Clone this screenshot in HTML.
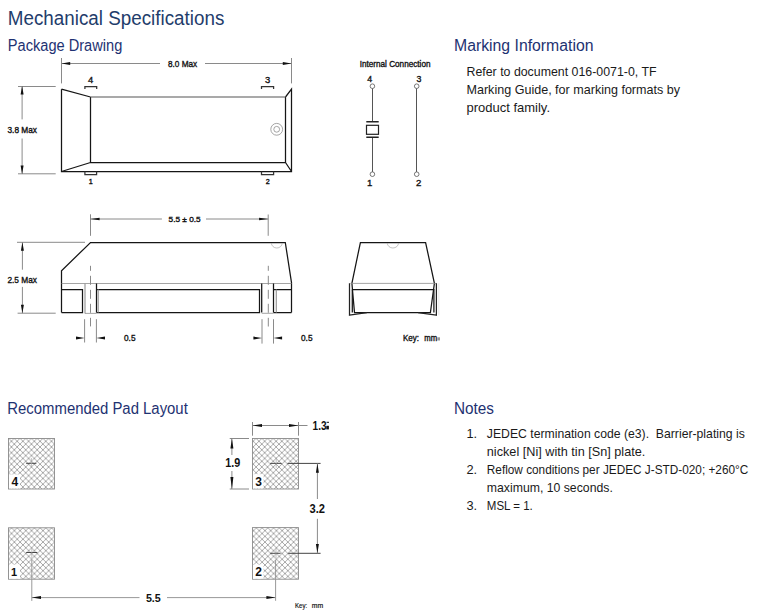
<!DOCTYPE html>
<html><head><meta charset="utf-8">
<style>
html,body{margin:0;padding:0;background:#fff;width:760px;height:616px;overflow:hidden}
svg{position:absolute;left:0;top:0;display:block}
text{font-family:"Liberation Sans",sans-serif}
.h1{fill:#1f3d6b;font-size:19.6px}
.h2{fill:#1e3272;font-size:16px}
.bd{fill:#1a1a1a;font-size:12.8px}
.lb{fill:#111;stroke:#111;stroke-width:0.35}
.lbb{fill:#111;font-weight:bold}
.dim{stroke:#8a8a8a;stroke-width:1;fill:none}
.bod{stroke:#151515;stroke-width:1.25;fill:none}
.thin{stroke:#8e8e8e;stroke-width:0.8;fill:none}
.gb{stroke:#9a9a9a;stroke-width:1.2;fill:none}
.ar{fill:#111;stroke:none}
</style></head><body>
<svg width="760" height="616" viewBox="0 0 760 616">
<defs>
<pattern id="h4" patternUnits="userSpaceOnUse" x="11.44" y="435.54" width="5.72" height="5.72"><path d="M-1 -1L6.72 6.72M6.72 -1L-1 6.72" stroke="#7a7a7a" stroke-width="0.65"/></pattern>
<pattern id="h3" patternUnits="userSpaceOnUse" x="253.24" y="435.54" width="5.72" height="5.72"><path d="M-1 -1L6.72 6.72M6.72 -1L-1 6.72" stroke="#7a7a7a" stroke-width="0.65"/></pattern>
<pattern id="h1" patternUnits="userSpaceOnUse" x="14.39" y="530.64" width="5.72" height="5.72"><path d="M-1 -1L6.72 6.72M6.72 -1L-1 6.72" stroke="#7a7a7a" stroke-width="0.65"/></pattern>
<pattern id="h2" patternUnits="userSpaceOnUse" x="253.54" y="530.64" width="5.72" height="5.72"><path d="M-1 -1L6.72 6.72M6.72 -1L-1 6.72" stroke="#7a7a7a" stroke-width="0.65"/></pattern>

</defs>

<!-- headings -->
<text class="h1" x="7.8" y="25" textLength="216.5" lengthAdjust="spacingAndGlyphs">Mechanical Specifications</text>
<text class="h2" x="7.8" y="50.7" textLength="114.5" lengthAdjust="spacingAndGlyphs">Package Drawing</text>
<text class="h2" x="454" y="51" textLength="139.5" lengthAdjust="spacingAndGlyphs">Marking Information</text>
<text class="h2" x="7.3" y="414" textLength="180.5" lengthAdjust="spacingAndGlyphs">Recommended Pad Layout</text>
<text class="h2" x="454" y="413.5" textLength="40" lengthAdjust="spacingAndGlyphs">Notes</text>

<!-- marking body -->
<text class="bd" x="466.5" y="76" textLength="190" lengthAdjust="spacingAndGlyphs">Refer to document 016-0071-0, TF</text>
<text class="bd" x="466.5" y="94" textLength="213.5" lengthAdjust="spacingAndGlyphs">Marking Guide, for marking formats by</text>
<text class="bd" x="466.5" y="112" textLength="83.5" lengthAdjust="spacingAndGlyphs">product family.</text>

<!-- notes -->
<text class="bd" x="466.5" y="438">1.</text>
<text class="bd" x="486.8" y="438" textLength="258" lengthAdjust="spacingAndGlyphs">JEDEC termination code (e3).&#160; Barrier-plating is</text>
<text class="bd" x="486.8" y="456" textLength="158.5" lengthAdjust="spacingAndGlyphs">nickel [Ni] with tin [Sn] plate.</text>
<text class="bd" x="466.5" y="474">2.</text>
<text class="bd" x="486.8" y="474" textLength="261.5" lengthAdjust="spacingAndGlyphs">Reflow conditions per JEDEC J-STD-020; +260°C</text>
<text class="bd" x="486.8" y="491.9" textLength="126" lengthAdjust="spacingAndGlyphs">maximum, 10 seconds.</text>
<text class="bd" x="466.5" y="509.8">3.</text>
<text class="bd" x="486.8" y="509.8" textLength="46" lengthAdjust="spacingAndGlyphs">MSL = 1.</text>

<!-- ===== TOP VIEW ===== -->
<g>
<path class="dim" d="M61.5 58V83.4M291.5 58V83.4M61.5 63.5H160M205 63.5H291.5"/>
<path class="ar" d="M61.5 63.5L70.2 62V65ZM291.5 63.5L282.8 62V65Z"/>
<text class="lb" x="168" y="67.3" font-size="9.4" textLength="29.2" lengthAdjust="spacingAndGlyphs">8.0 Max</text>
<text class="lb" x="90.6" y="82.7" font-size="9.4" text-anchor="middle">4</text>
<text class="lb" x="267.7" y="82.7" font-size="9.4" text-anchor="middle">3</text>
<path class="bod" style="stroke:#333" d="M84.9 89V86.5H96.7V89M261.5 89V86.5H273.6V89"/>
<path class="bod" d="M61.5 89.2V171.5H291.5V89.2L285.5 97M90.5 97V162.5H285.5V97M61.5 171.5L90.5 162.5M285.5 162.5L291.5 171.5M61.5 89.2L90.5 97"/>
<path class="bod" style="stroke:#555;stroke-width:1.1" d="M90.5 97H285.5"/>
<circle cx="276.7" cy="129.3" r="5.9" class="thin"/>
<circle cx="276.7" cy="129.3" r="2.9" class="thin"/>
<path class="bod" style="stroke:#333" d="M84.9 171.5V174.5H96.6V171.5M261.5 171.5V174.5H273.6V171.5"/>
<text class="lb" x="90.7" y="183.8" font-size="7.2" text-anchor="middle">1</text>
<text class="lb" x="267.7" y="183.8" font-size="7.2" text-anchor="middle">2</text>
<path class="dim" d="M18 86.5H55.7M18 173.8H55.7M22.1 86V119.4M22.1 138.5V174"/>
<path class="ar" d="M22.1 86L20.6 94.5H23.6ZM22.1 174L20.6 165.5H23.6Z"/>
<text class="lb" x="7.5" y="132.9" font-size="8.6" textLength="29.4" lengthAdjust="spacingAndGlyphs">3.8 Max</text>
</g>

<!-- ===== INTERNAL CONNECTION ===== -->
<g>
<text class="lb" x="359.7" y="66.8" font-size="8.7" textLength="70.8" lengthAdjust="spacingAndGlyphs">Internal Connection</text>
<text class="lb" x="369.7" y="81.5" font-size="8.8" text-anchor="middle">4</text>
<text class="lb" x="418.9" y="81.5" font-size="8.8" text-anchor="middle">3</text>
<text class="lb" x="369.7" y="186.4" font-size="9.6" text-anchor="middle">1</text>
<text class="lb" x="418.7" y="186.4" font-size="9.6" text-anchor="middle">2</text>
<circle cx="372.4" cy="86.2" r="2.3" class="thin" style="stroke:#555"/>
<circle cx="416.7" cy="86.2" r="2.3" class="thin" style="stroke:#555"/>
<circle cx="372.4" cy="174.2" r="2.3" class="thin" style="stroke:#555"/>
<circle cx="416.7" cy="174.2" r="2.3" class="thin" style="stroke:#555"/>
<path class="dim" style="stroke:#555" d="M372.5 88.5V121.7M372.5 137.2V171.9M416.5 88.5V171.9"/>
<path class="bod" style="stroke-width:1.4;stroke:#222" d="M366.3 121.7H378.7M366.3 137.2H378.7"/>
<rect x="366.5" y="125.3" width="12" height="9" class="bod" style="stroke:#222;stroke-width:1.2"/>
</g>

<!-- ===== SIDE VIEW ===== -->
<g>
<path class="dim" d="M90.5 214.3V235.8M268.2 214.5V235.8M90.5 219H161.9M206 219H268.2"/>
<path class="ar" d="M90.5 219L99.6 217.7V220.3ZM268.2 219L259.1 217.7V220.3Z"/>
<text class="lb" x="168.6" y="221.6" font-size="8" textLength="32" lengthAdjust="spacingAndGlyphs">5.5 ± 0.5</text>
<path class="dim" d="M17 242.3H85M17.6 313.2H55.7M22.4 242.3V269.7M22.4 286.9V313.2"/>
<path class="ar" d="M22.4 242.3L20.9 250.8H23.9ZM22.4 313.2L20.9 304.7H23.9Z"/>
<text class="lb" x="7.4" y="282.7" font-size="9" textLength="29.5" lengthAdjust="spacingAndGlyphs">2.5 Max</text>
<!-- body -->
<path class="bod" d="M61.5 312.5V270.8L90.5 242.5H285.3L291.5 282.6V312.5"/>
<path class="thin" d="M61.5 283.5H291.5"/>
<path class="bod" d="M61.5 289.5H82.5V312.5H61.5M96.5 283.5V312.5M96.5 289.5H259.5V312.5H96.5M261.7 283.5V312.5M273.5 283.5V312.5M273.5 289.5H291.5M273.5 312.5H291.5"/>
<path class="gb" d="M85 283.5V313.5M98.2 289.5V312.5M276.3 289.5V312.5"/>
<path class="thin" d="M85 313.4H96.5M261.7 313.3H273.5"/>
<path d="M271.4 243A5.4 5 0 0 0 282.2 243" class="thin" style="stroke:#aaa;stroke-width:0.7"/>
<path class="dim" stroke-dasharray="9 5" stroke-dashoffset="4" d="M90.5 265.8V326.4M268.3 265.8V326.5"/>
<path class="dim" d="M84.6 319.2V342.5M96.4 319.2V342.5M262 319.2V343.6M273.5 319.2V343.6"/>
<path class="ar" d="M84.6 338.1L76 336.6V339.6ZM96.4 338.1L105 336.6V339.6ZM262 338.1L253.4 336.6V339.6ZM273.5 338.1L282.1 336.6V339.6Z"/>
<text class="lb" x="124" y="341.3" font-size="8.6" textLength="11.5" lengthAdjust="spacingAndGlyphs">0.5</text>
<text class="lb" x="301" y="341.3" font-size="8.6" textLength="11.5" lengthAdjust="spacingAndGlyphs">0.5</text>
</g>

<!-- ===== END VIEW ===== -->
<g>
<path class="bod" d="M360.4 242.5H425.6L434.4 283.3L430.4 312.5H354.5L351.9 283.3Z"/>
<path class="thin" d="M350.5 283.4H436.4"/>
<path class="bod" d="M352.3 289.5H433.9V312.5M352.3 289.5V312.5"/>
<path class="bod" style="stroke:#222" d="M349.5 283.2V315.2Q358 314 366.9 312.6M436.4 283.2V315.2Q427 314 418.1 312.6"/>
<path d="M438.8 283.2V315.2" style="stroke:#eee;stroke-width:1.5"/>
<path d="M387.3 243A5.6 5 0 0 0 398.5 243" class="thin" style="stroke:#aaa;stroke-width:0.7"/>
<text class="lb" x="402.9" y="340.6" font-size="8.4" textLength="16" lengthAdjust="spacingAndGlyphs">Key:</text><text class="lb" x="424.3" y="340.6" font-size="8.4" textLength="12.8" lengthAdjust="spacingAndGlyphs">mm</text><rect x="437.3" y="337.3" width="2.7" height="3.2" fill="#999"/>
</g>

<!-- ===== PAD LAYOUT ===== -->
<g>
<rect x="8.5" y="438.5" width="46" height="50.5" fill="url(#h4)" stroke="#8a8a8a" stroke-width="0.9"/>
<rect x="252.5" y="438.5" width="46" height="50.5" fill="url(#h3)" stroke="#8a8a8a" stroke-width="0.9"/>
<rect x="8.5" y="527.8" width="46" height="51.4" fill="url(#h1)" stroke="#8a8a8a" stroke-width="0.9"/>
<rect x="252.5" y="527.6" width="46" height="51.6" fill="url(#h2)" stroke="#8a8a8a" stroke-width="0.9"/>
<rect x="9" y="474.5" width="11" height="14" fill="#fff"/>
<rect x="253" y="474.2" width="10.5" height="14.3" fill="#fff"/>
<rect x="9" y="564.5" width="11" height="14.3" fill="#fff"/>
<rect x="253" y="564.5" width="10.5" height="14.3" fill="#fff"/>
<text class="lbb" x="11.4" y="485.8" font-size="12">4</text>
<text class="lbb" x="255.2" y="485.8" font-size="12">3</text>
<text class="lbb" x="11" y="576" font-size="11">1</text>
<text class="lbb" x="255.2" y="576" font-size="12">2</text>
<path stroke="#333" stroke-width="0.9" d="M26.1 463.3H36.4M270.2 463.4H281.6M26.2 552.5H37.3M270.3 553.3H280.6"/>
<path stroke="#aaa" stroke-width="0.7" d="M31.4 458V468M276.2 457V467.8M31.8 547V558M276 548V558"/>
<!-- dims -->
<path class="dim" d="M252.5 422V435.7M298.5 422V435.7M252.5 425.5H307.5"/>
<path class="ar" d="M252.5 425.5L262 424V427ZM298.5 425.5L289 424V427Z"/>
<text class="lbb" x="312.6" y="429.7" font-size="12" textLength="14" lengthAdjust="spacingAndGlyphs">1.3</text>
<rect x="326.3" y="425.8" width="2.6" height="3.6" fill="#111"/>
<rect x="326.6" y="421.8" width="2.4" height="1" fill="#111"/>
<path class="dim" d="M229.7 438.5H249M229.7 489H249M231.9 438.5V455M231.9 471V489"/>
<path class="ar" d="M231.9 438.5L230.4 448.5H233.4ZM231.9 489L230.4 477H233.4Z"/>
<text class="lbb" x="225.3" y="467.1" font-size="12.2" textLength="15" lengthAdjust="spacingAndGlyphs">1.9</text>
<path class="dim" style="stroke:#444" d="M287.5 463.4H320.6M288.2 553.3H320.6"/>
<path class="dim" d="M317.4 463.4V499M317.4 518.8V553.3"/>
<path class="ar" d="M317.4 463.4L315.9 472.8H318.9ZM317.4 553.3L315.9 543.9H318.9Z"/>
<text class="lbb" x="309.5" y="513.2" font-size="12.2" textLength="15.5" lengthAdjust="spacingAndGlyphs">3.2</text>
<path class="dim" style="stroke:#999" d="M31.8 560V600.9M275.6 560V600.8M31.8 597.6H139.5M167 597.6H275.6"/>
<path class="ar" d="M31.8 597.6L41 596.1V599.1ZM275.6 597.6L266.4 596.1V599.1Z"/>
<text class="lbb" x="145.9" y="602.2" font-size="11.6" textLength="14.9" lengthAdjust="spacingAndGlyphs">5.5</text>
<text class="lb" style="stroke-width:0.2" x="295" y="608.2" font-size="7.8" textLength="12.1" lengthAdjust="spacingAndGlyphs">Key:</text><text class="lb" style="stroke-width:0.2" x="311.8" y="608.2" font-size="7.8" textLength="11.4" lengthAdjust="spacingAndGlyphs">mm</text>
</g>
</svg>
</body></html>
